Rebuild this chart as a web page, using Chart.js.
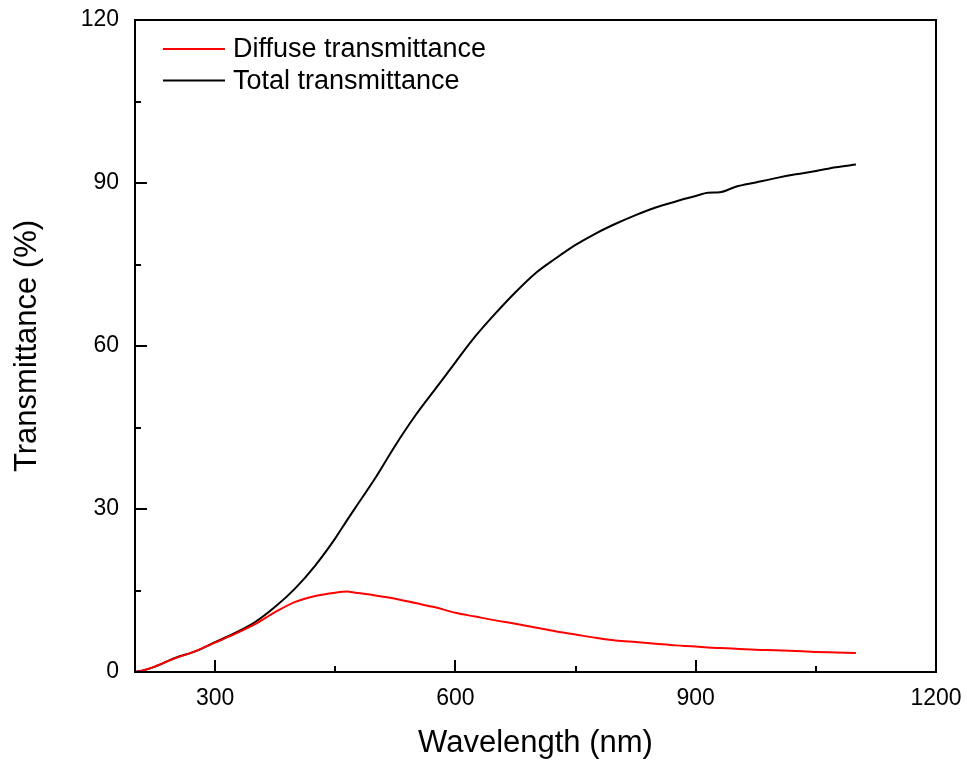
<!DOCTYPE html>
<html>
<head>
<meta charset="utf-8">
<script src="https://cdn.jsdelivr.net/npm/chart.js@4/dist/chart.umd.min.js"></script>
<style>
  html, body { margin: 0; padding: 0; background: #fff; }
  canvas { display: block; }
</style>
</head>
<body>
<canvas id="chart" width="967" height="762"></canvas>
<script>
// wavelengths (nm)
const wavelengths = [200, 210, 225, 250, 275, 300, 325, 350, 375, 400, 425, 450, 465, 475, 500, 525, 550, 575, 600, 625,
    650, 675, 700, 725, 750, 775, 800, 825, 850, 875, 900, 915, 930, 950, 975, 1000, 1025, 1050, 1075, 1100];

// transmittance (%)
const diffuse = [0.0, 0.3, 1.0, 2.5, 3.8, 5.4, 7.0, 8.8, 11.0, 12.9, 14.0, 14.6, 14.8, 14.6, 14.1, 13.5, 12.7, 11.9, 10.9, 10.2,
    9.5, 8.9, 8.2, 7.5, 6.9, 6.3, 5.8, 5.5, 5.2, 4.9, 4.7, 4.5, 4.4, 4.3, 4.1, 4.0, 3.85, 3.7, 3.6, 3.5];
const total = [0.0, 0.3, 1.0, 2.6, 3.8, 5.5, 7.2, 9.2, 12.0, 15.4, 19.6, 24.6, 28.0, 30.2, 35.7, 41.7, 47.2, 52.1, 57.0, 61.8,
    66.0, 69.9, 73.4, 76.1, 78.6, 80.7, 82.5, 84.1, 85.5, 86.6, 87.6, 88.2, 88.3, 89.3, 90.1, 90.9, 91.6, 92.2, 92.9, 93.4];

const xTicks = [300, 450, 600, 750, 900, 1050, 1200];
const xLabeled = [300, 600, 900, 1200];
const yTicks = [0, 15, 30, 45, 60, 75, 90, 105, 120];
const yLabeled = [0, 30, 60, 90, 120];

const FONT = "'Liberation Sans', Arial, sans-serif";

// box frame, inward ticks and the legend inside the plot
const framePlugin = {
    id: 'frame',
    afterDraw(chart) {
        const { ctx, chartArea: a, scales } = chart;
        ctx.save();
        ctx.strokeStyle = '#000';
        ctx.lineWidth = 2;
        ctx.strokeRect(a.left, a.top, a.right - a.left, a.bottom - a.top);

        ctx.beginPath();
        xTicks.forEach(v => {
            const x = Math.round(scales.x.getPixelForValue(v));
            const len = xLabeled.includes(v) ? 12 : 6;
            ctx.moveTo(x, a.bottom);
            ctx.lineTo(x, a.bottom - len);
        });
        yTicks.forEach(v => {
            const y = Math.round(scales.y.getPixelForValue(v));
            const len = yLabeled.includes(v) ? 12 : 6;
            ctx.moveTo(a.left, y);
            ctx.lineTo(a.left + len, y);
        });
        ctx.stroke();

        // legend
        ctx.font = '27px ' + FONT;
        ctx.textBaseline = 'middle';
        ctx.fillStyle = '#000';
        chart.data.datasets.forEach((ds, i) => {
            const y = a.top + 29 + i * 31.5;
            ctx.strokeStyle = ds.borderColor;
            ctx.lineWidth = 2;
            ctx.beginPath();
            ctx.moveTo(a.left + 28, y);
            ctx.lineTo(a.left + 90, y);
            ctx.stroke();
            ctx.fillText(ds.label, a.left + 98, y + 1);
        });
        ctx.restore();
    }
};

new Chart(document.getElementById('chart').getContext('2d'), {
    type: 'line',
    data: {
        labels: wavelengths,
        datasets: [
            {
                label: 'Diffuse transmittance',
                data: wavelengths.map((w, i) => ({ x: w, y: diffuse[i] })),
                borderColor: '#ff0000',
                borderWidth: 2,
                pointRadius: 0,
                cubicInterpolationMode: 'monotone'
            },
            {
                label: 'Total transmittance',
                data: wavelengths.map((w, i) => ({ x: w, y: total[i] })),
                borderColor: '#000000',
                borderWidth: 2,
                pointRadius: 0,
                cubicInterpolationMode: 'monotone'
            }
        ]
    },
    options: {
        responsive: false,
        animation: false,
        layout: { padding: { top: 20, right: 31, left: 0, bottom: 0 } },
        plugins: {
            legend: { display: false },
            tooltip: { enabled: false }
        },
        scales: {
            x: {
                type: 'linear',
                min: 200,
                max: 1200,
                afterBuildTicks: (scale) => { scale.ticks = xTicks.map(v => ({ value: v })); },
                afterFit: (scale) => {
                    scale.height = 90;
                    scale.paddingLeft = 0;
                    scale.paddingRight = 0;
                },
                grid: { display: false, drawTicks: false },
                border: { display: false },
                ticks: {
                    autoSkip: false,
                    maxRotation: 0,
                    padding: 13,
                    color: '#000',
                    font: { family: FONT, size: 23 },
                    callback: (v) => xLabeled.includes(v) ? String(v) : ''
                },
                title: {
                    display: true,
                    text: 'Wavelength (nm)',
                    color: '#000',
                    font: { family: FONT, size: 31 },
                    padding: { top: 0, bottom: 0 }
                }
            },
            y: {
                min: 0,
                max: 120,
                afterBuildTicks: (scale) => { scale.ticks = yTicks.map(v => ({ value: v })); },
                afterFit: (scale) => {
                    scale.width = 135;
                    scale.paddingTop = 0;
                    scale.paddingBottom = 0;
                },
                grid: { display: false, drawTicks: false },
                border: { display: false },
                ticks: {
                    autoSkip: false,
                    padding: 16,
                    color: '#000',
                    font: { family: FONT, size: 23 },
                    callback: (v) => yLabeled.includes(v) ? String(v) : ''
                },
                title: {
                    display: true,
                    text: 'Transmittance (%)',
                    color: '#000',
                    font: { family: FONT, size: 31 },
                    padding: { top: 9, bottom: 0 }
                }
            }
        }
    },
    plugins: [framePlugin]
});
</script>
</body>
</html>
